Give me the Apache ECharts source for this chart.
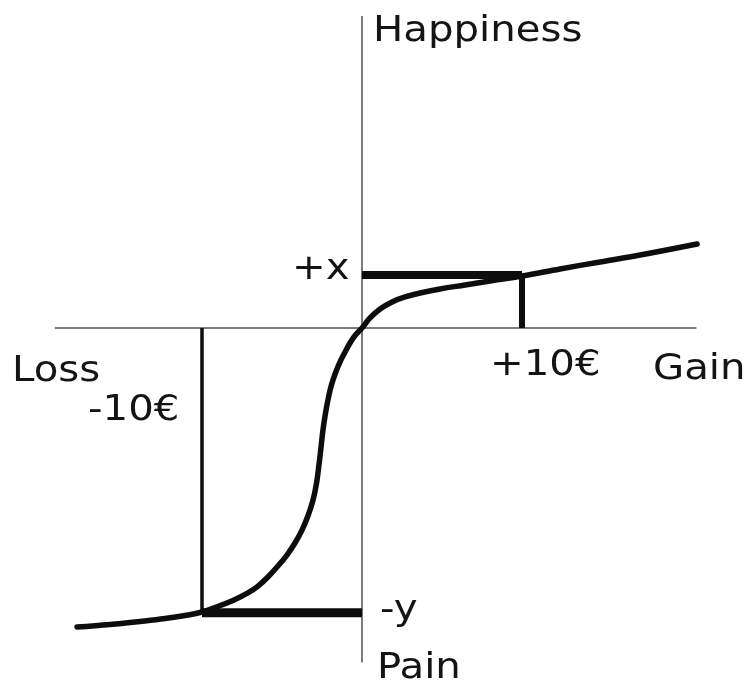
<!DOCTYPE html>
<html>
<head>
<meta charset="utf-8">
<script src="https://cdn.jsdelivr.net/npm/echarts@6/dist/echarts.min.js"></script>
<style>
  html, body { margin: 0; padding: 0; background: #fff; }
  #chart { width: 748px; height: 684px; }
</style>
</head>
<body>
<div id="chart"></div>
<script>
// value curve (euros -> feeling)
const money = [-17.81, -15.75, -13.88, -12.31, -11.06, -10, -8.94, -8, -7.13, -6.5, -5.88, -5.31, -4.69, -4.19, -3.75, -3.38, -3.06, -2.84, -2.69, -2.56, -2.44, -2.28, -2.09, -1.91, -1.66, -1.38, -1.09, -0.75, -0.41, 0, 0.5, 1.13, 1.88, 2.69, 3.63, 4.88, 6.44, 8, 10, 12.38, 14.88, 17.38, 20.94]
const feeling = [-18.69, -18.53, -18.34, -18.16, -17.97, -17.75, -17.38, -17, -16.56, -16.13, -15.56, -14.94, -14.19, -13.44, -12.63, -11.75, -10.75, -9.69, -8.56, -7.44, -6.38, -5.31, -4.31, -3.56, -2.81, -2.13, -1.56, -0.94, -0.44, 0, 0.63, 1.19, 1.63, 1.94, 2.19, 2.44, 2.69, 2.94, 3.25, 3.69, 4.13, 4.56, 5.25]

// axis extents
const xAxisEnds = [-19.2, 20.9]
const yAxisEnds = [19.5, -20.9]

// reference amounts
const gainAmount = 10
const lossAmount = -10
const gainFeeling = 3.31   // +x
const lossFeeling = -17.8  // -y

const chart = echarts.init(document.getElementById('chart'))

const gray = '#7c7c7c'
const ink = '#0d0d0d'
const font = 'DejaVu Sans'

function seg(a, b) {
  return [a, b]
}

function label(text, x, y, align) {
  return {
    type: 'text',
    x: x,
    y: y,
    scaleX: 1.15,
    style: {
      text: text,
      x: 0,
      y: 0,
      fill: '#141414',
      font: '35px "' + font + '"',
      align: align || 'left',
      verticalAlign: 'middle'
    }
  }
}

const option = {
  backgroundColor: '#fff',
  animation: false,
  grid: { left: 0, right: 0, top: 0, bottom: 0 },
  xAxis: {
    type: 'value',
    min: -22.625,
    max: 24.125,
    show: false
  },
  yAxis: {
    type: 'value',
    min: -22.25,
    max: 20.5,
    show: false
  },
  series: [
    {
      type: 'line',
      symbol: 'none',
      data: seg([xAxisEnds[0], 0], [xAxisEnds[1], 0]),
      lineStyle: { color: gray, width: 2 }
    },
    {
      type: 'line',
      symbol: 'none',
      data: seg([0, yAxisEnds[0]], [0, yAxisEnds[1]]),
      lineStyle: { color: gray, width: 2 }
    },
    {
      type: 'line',
      symbol: 'none',
      data: seg([0, gainFeeling], [gainAmount, gainFeeling]),
      lineStyle: { color: ink, width: 8 }
    },
    {
      type: 'line',
      symbol: 'none',
      data: seg([gainAmount, gainFeeling], [gainAmount, 0]),
      lineStyle: { color: ink, width: 6 }
    },
    {
      type: 'line',
      symbol: 'none',
      data: seg([lossAmount, lossFeeling], [0, lossFeeling]),
      lineStyle: { color: ink, width: 9 }
    },
    {
      type: 'line',
      symbol: 'none',
      data: seg([lossAmount, 0], [lossAmount, lossFeeling]),
      lineStyle: { color: ink, width: 3.5 }
    },
    {
      type: 'line',
      symbol: 'none',
      smooth: 0.4,
      data: money.map((m, i) => [m, feeling[i]]),
      lineStyle: { color: ink, width: 5.5, cap: 'round', join: 'round' }
    }
  ],
  graphic: [
    label('Happiness', 373, 32),
    label('Loss', 12, 372),
    label('-10€', 88, 411),
    label('+10€', 490, 366),
    label('Gain', 653, 370),
    label('+x', 292, 270),
    label('-y', 380, 611),
    label('Pain', 377, 669)
  ]
}

chart.setOption(option)
window.addEventListener('resize', () => chart.resize())
</script>
</body>
</html>
